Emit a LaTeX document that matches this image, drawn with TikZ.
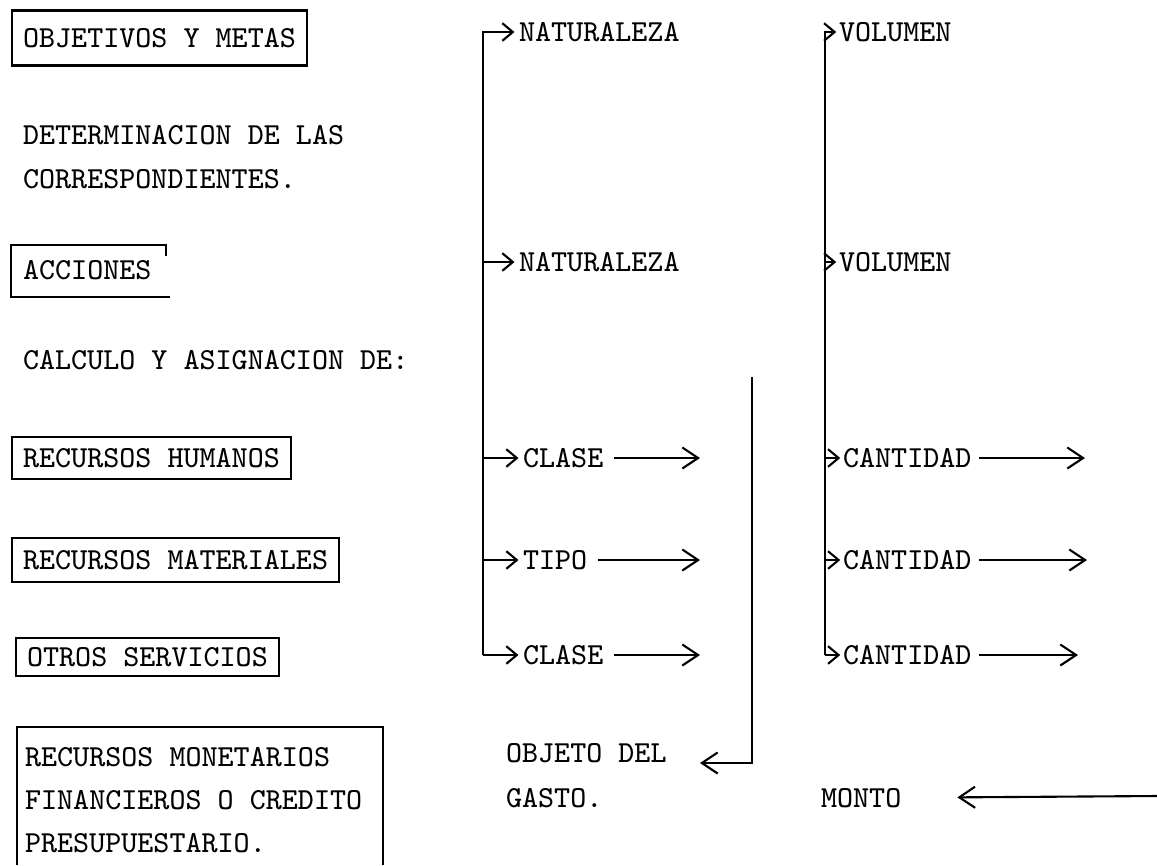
\documentclass[tikz,border=0pt]{standalone}
\usepackage{tikz}
\usetikzlibrary{arrows.meta}
\newcommand{\maq}{\fontsize{8.7}{10}\selectfont\ttfamily}

\begin{document}
\begin{tikzpicture}
  [line width=.6pt,
   every node/.style={anchor=west,inner sep=0pt,font=\maq},
   caja/.style={draw,inner xsep=.11cm,minimum height=.42cm},
   flecha/.style={-{Straight Barb[length=4.5pt,width=6pt]}},
   flechita/.style={-{Straight Barb[length=3pt,width=5pt]}}]
  \useasboundingbox (0,0) rectangle (11.57,-8.65);

  % columna izquierda
  \node[caja,minimum height=.55cm] (obj) at (.11,-.38) {OBJETIVOS Y METAS};
  \node (det1) at (.22,-1.35) {DETERMINACION DE LAS};
  \node (det2) at (.22,-1.79) {CORRESPONDIENTES.};
  \node (acc) at (.22,-2.70) {ACCIONES};
  \node (calc) at (.22,-3.60) {CALCULO Y ASIGNACION DE:};
  \node[caja] (hum) at (.11,-4.58) {RECURSOS HUMANOS};
  \node[caja,minimum height=.44cm] (mat) at (.11,-5.60) {RECURSOS MATERIALES};
  \node[caja,minimum height=.38cm] (otr) at (.15,-6.57) {OTROS SERVICIOS};
  \node (mon1) at (.24,-7.57) {RECURSOS MONETARIOS};
  \node (mon2) at (.24,-8.00) {FINANCIEROS O CREDITO};
  \node (mon3) at (.24,-8.43) {PRESUPUESTARIO.};

  % cajas abiertas
  \draw (1.70,-2.97) -- (.11,-2.97) -- (.11,-2.45) -- (1.66,-2.45) -- (1.66,-2.56);
  \draw (.17,-8.65) -- (.17,-7.27) -- (3.83,-7.27) -- (3.83,-8.65);

  % columna central
  \node (nat1) at (5.18,-.32) {NATURALEZA};
  \node (nat2) at (5.18,-2.62) {NATURALEZA};
  \node (cla1) at (5.22,-4.58) {CLASE};
  \node (tip) at (5.22,-5.60) {TIPO};
  \node (cla2) at (5.22,-6.55) {CLASE};
  \coordinate (b1) at (4.83,-6.55);
  \foreach \t in {nat1,nat2,cla1,tip,cla2}
    \draw[flechita] (b1) |- ([xshift=-1pt]\t.west);

  \coordinate (f1) at (7.00,-4.58);
  \coordinate (f2) at (7.00,-5.60);
  \coordinate (f3) at (7.00,-6.55);
  \foreach \a/\b in {cla1/f1,tip/f2,cla2/f3}
    \draw[flecha,shorten <=.1cm] (\a) -- (\b);

  \node (objeto) at (5.05,-7.53) {OBJETO DEL};
  \node (gasto) at (5.05,-7.98) {GASTO.};
  \coordinate (o1) at (7.52,-3.77);
  \coordinate (o2) at (7.00,-7.63);
  \draw[flecha] (o1) |- (o2);

  % columna derecha
  \node (vol1) at (8.38,-.32) {VOLUMEN};
  \node (vol2) at (8.38,-2.62) {VOLUMEN};
  \node (can1) at (8.42,-4.58) {CANTIDAD};
  \node (can2) at (8.42,-5.60) {CANTIDAD};
  \node (can3) at (8.42,-6.55) {CANTIDAD};
  \coordinate (b2) at (8.25,-6.55);
  \foreach \t in {vol1,vol2,can1,can2,can3}
    \draw[flechita] (b2) |- ([xshift=-.5pt]\t.west);

  \coordinate (g1) at (10.85,-4.58);
  \coordinate (g2) at (10.87,-5.60);
  \coordinate (g3) at (10.78,-6.55);
  \foreach \a/\b in {can1/g1,can2/g2,can3/g3}
    \draw[flecha,shorten <=.06cm] (\a) -- (\b);

  \node (monto) at (8.20,-7.98) {MONTO};
  \coordinate (m) at (11.57,-7.96);
  \draw[flecha,shorten >=.55cm] (m) -- (monto);

\end{tikzpicture}
\end{document}
